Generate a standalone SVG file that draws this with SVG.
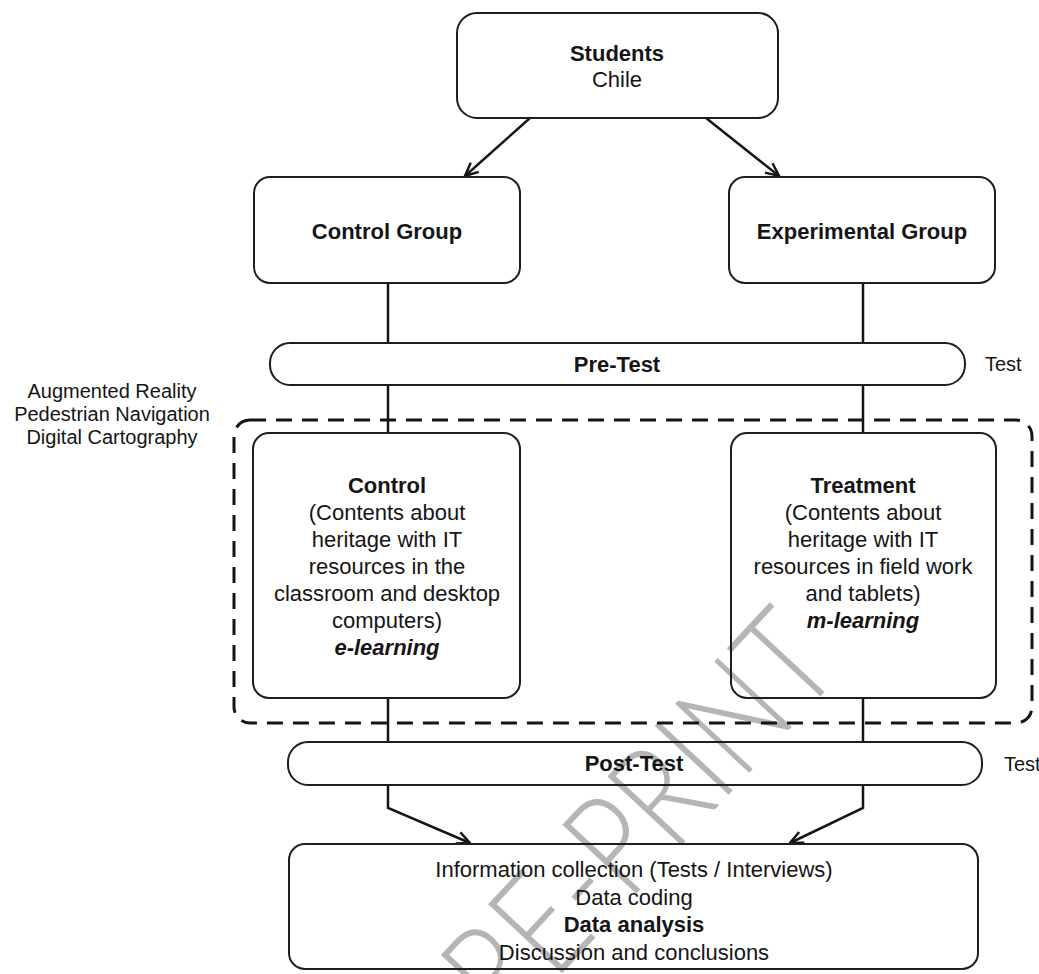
<svg xmlns="http://www.w3.org/2000/svg" width="1039" height="974" viewBox="0 0 1039 974">
<style>
.box{fill:none;stroke:#1e1e1e;stroke-width:2}
.t{font-family:"Liberation Sans",Arial,sans-serif;font-size:22px;fill:#151515;text-anchor:middle}
.b{font-weight:bold}
.side{font-family:"Liberation Sans",Arial,sans-serif;font-size:20px;fill:#151515}
.con{fill:none;stroke:#151515;stroke-width:2.5}
.wm{font-family:Lato,"Open Sans","Noto Sans",sans-serif;font-weight:300;font-size:143px;fill:#b5b5b5;text-anchor:end}
</style>
<defs>
<marker id="arr" viewBox="0 0 16 16" refX="15" refY="8" markerWidth="16" markerHeight="16" markerUnits="userSpaceOnUse" orient="auto">
<path d="M2,2 L15,8 L2,14" fill="none" stroke="#151515" stroke-width="2.5"/>
</marker>
</defs>
<rect width="1039" height="974" fill="#fff"/>

<text class="wm" transform="translate(845,670) rotate(-47) scale(0.8,1)">PRE-PRINT</text>

<g id="group-box">
<rect x="234" y="420" width="798" height="303" rx="16" fill="none" stroke="#151515" stroke-width="3" stroke-dasharray="16 10"/>
</g>

<g id="connectors">
<line class="con" x1="530" y1="118" x2="465" y2="176" marker-end="url(#arr)"/>
<line class="con" x1="706" y1="118" x2="779" y2="176" marker-end="url(#arr)"/>
<line class="con" x1="388" y1="283" x2="388" y2="343"/>
<line class="con" x1="863" y1="283" x2="863" y2="343"/>
<line class="con" x1="388" y1="385" x2="388" y2="433"/>
<line class="con" x1="863" y1="385" x2="863" y2="433"/>
<line class="con" x1="388" y1="698" x2="388" y2="742"/>
<line class="con" x1="863" y1="698" x2="863" y2="742"/>
<polyline class="con" points="388,785 388,808 470,843" marker-end="url(#arr)"/>
<polyline class="con" points="863,785 863,808 790,843" marker-end="url(#arr)"/>
</g>

<g id="students">
<rect class="box" x="457" y="13" width="321" height="105" rx="20"/>
<text class="t b" x="617" y="61">Students</text>
<text class="t" x="617" y="87">Chile</text>
</g>

<g id="control-group">
<rect class="box" x="254" y="177" width="266" height="106" rx="16"/>
<text class="t b" x="387" y="239">Control Group</text>
</g>

<g id="experimental-group">
<rect class="box" x="729" y="177" width="266" height="106" rx="16"/>
<text class="t b" x="862" y="239">Experimental Group</text>
</g>

<g id="pre-test">
<rect class="box" x="270" y="343" width="695" height="42" rx="20"/>
<text class="t b" x="617" y="372">Pre-Test</text>
<text class="side" x="985" y="371">Test</text>
</g>

<g id="tech-label">
<text class="side" text-anchor="middle" x="112" y="398">Augmented Reality</text>
<text class="side" text-anchor="middle" x="112" y="421">Pedestrian Navigation</text>
<text class="side" text-anchor="middle" x="112" y="444">Digital Cartography</text>
</g>

<g id="control">
<rect class="box" x="253" y="433" width="267" height="265" rx="16"/>
<text class="t b" x="387" y="493">Control</text>
<text class="t" x="387" y="520">(Contents about</text>
<text class="t" x="387" y="547">heritage with IT</text>
<text class="t" x="387" y="574">resources in the</text>
<text class="t" x="387" y="601">classroom and desktop</text>
<text class="t" x="387" y="628">computers)</text>
<text class="t b" x="387" y="655" font-style="italic">e-learning</text>
</g>

<g id="treatment">
<rect class="box" x="731" y="433" width="265" height="265" rx="16"/>
<text class="t b" x="863" y="493">Treatment</text>
<text class="t" x="863" y="520">(Contents about</text>
<text class="t" x="863" y="547">heritage with IT</text>
<text class="t" x="863" y="574">resources in field work</text>
<text class="t" x="863" y="601">and tablets)</text>
<text class="t b" x="863" y="628" font-style="italic">m-learning</text>
</g>

<g id="post-test">
<rect class="box" x="288" y="742" width="694" height="43" rx="20"/>
<text class="t b" x="634" y="771">Post-Test</text>
<text class="side" x="1004" y="771">Test</text>
</g>

<g id="analysis">
<rect class="box" x="289" y="844" width="689" height="125" rx="16"/>
<text class="t" x="634" y="877">Information collection (Tests / Interviews)</text>
<text class="t" x="634" y="905">Data coding</text>
<text class="t b" x="634" y="932">Data analysis</text>
<text class="t" x="634" y="960">Discussion and conclusions</text>
</g>
</svg>
